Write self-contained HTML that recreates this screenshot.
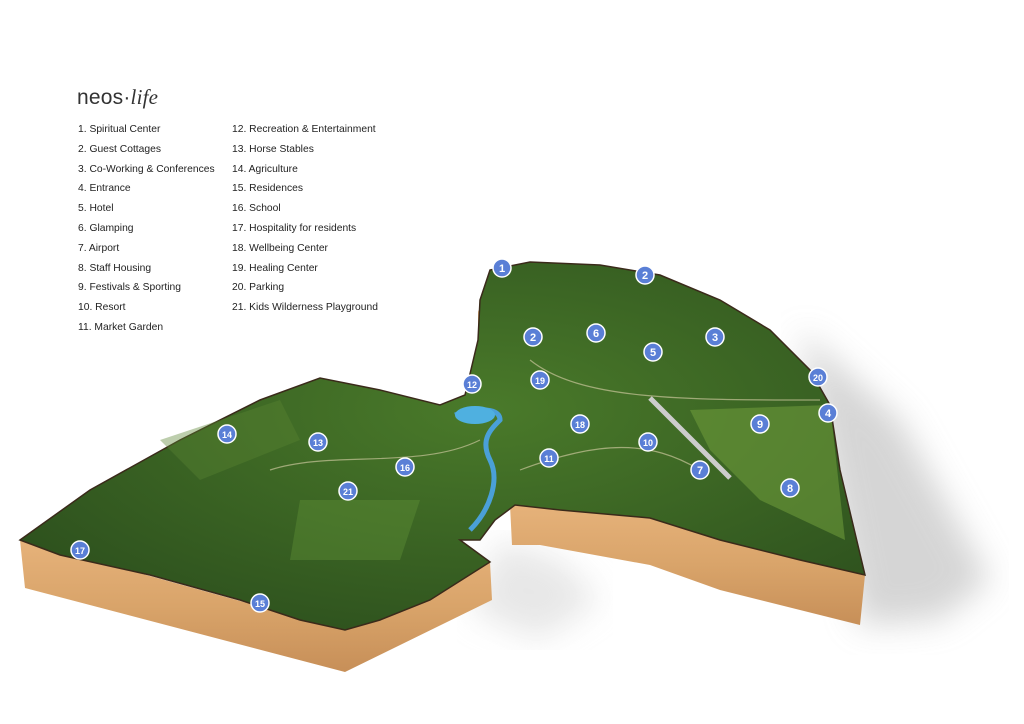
<!DOCTYPE html>
<html><head><meta charset="utf-8"><style>
body{margin:0;width:1024px;height:724px;background:#fff;overflow:hidden;position:relative;font-family:"Liberation Sans",sans-serif}
.logo{position:absolute;left:77px;top:85px;font-size:21px;color:#333;font-weight:normal;letter-spacing:0.2px}
.logo i{font-family:"Liberation Serif",serif}
.col{position:absolute;top:120px;font-size:10.3px;color:#222;line-height:19.8px}
</style></head><body>
<svg width="1024" height="724" style="position:absolute;left:0;top:0">
<defs>
<linearGradient id="side" x1="0" y1="0" x2="0" y2="1"><stop offset="0" stop-color="#e6b27a"/><stop offset="0.5" stop-color="#d9a46a"/><stop offset="1" stop-color="#c78f58"/></linearGradient>
<radialGradient id="grn" cx="0.55" cy="0.4" r="0.7"><stop offset="0" stop-color="#4a7a2a"/><stop offset="1" stop-color="#2c4f1d"/></radialGradient>
<filter id="bl"><feGaussianBlur stdDeviation="16"/></filter>
</defs>
<polygon points="800,330 900,420 990,580 940,620 860,625" fill="#c4c4c4" filter="url(#bl)" opacity="0.7"/>
<polygon points="500,540 560,560 600,600 540,640 470,610" fill="#d0d0d0" filter="url(#bl)" opacity="0.5"/>
<polygon points="20,540 345,630 490,562 492,600 345,672 25,588" fill="url(#side)"/>
<polygon points="510,505 650,518 720,540 800,560 865,575 860,625 720,590 650,565 540,545 512,545" fill="url(#side)"/>
<polygon points="478,310 500,360 500,400 478,400" fill="url(#side)"/>
<polygon points="20,540 90,490 180,440 260,400 320,378 380,390 440,405 465,395 478,340 480,300 490,270 530,262 600,265 660,275 720,300 770,330 810,370 830,405 840,470 865,575 800,560 720,540 650,518 560,510 515,505 495,520 480,540 460,540 490,562 430,600 380,620 345,630 300,620 240,600 150,575 60,555" fill="url(#grn)" stroke="#3a2a1a" stroke-width="1.5"/>
<polygon points="690,410 830,405 845,540 760,500 710,450" fill="#6d9a3a" opacity="0.6"/>
<polygon points="300,500 420,500 400,560 290,560" fill="#5e8f35" opacity="0.45"/>
<polygon points="160,440 280,400 300,440 200,480" fill="#5a8533" opacity="0.4"/>
<path d="M455,415 C470,410 500,405 500,420 C490,430 480,440 490,460 C500,480 490,510 470,530" stroke="#4aa0d8" stroke-width="5" fill="none"/>
<ellipse cx="475" cy="415" rx="20" ry="9" fill="#4fb0e0"/>
<line x1="650" y1="398" x2="730" y2="478" stroke="#ccc" stroke-width="5"/>
<path d="M270,470 C330,450 420,470 480,440 M520,470 C600,440 650,440 700,470 M530,360 C580,400 680,400 820,400" stroke="#c8c49a" stroke-width="1.2" fill="none" opacity="0.7"/>
<g font-family="Liberation Sans" font-size="11" font-weight="bold" fill="#fff" text-anchor="middle">
<g stroke="#fff" stroke-width="1.5" fill="#5a7fd6">
<circle cx="502" cy="268" r="9"/><circle cx="645" cy="275" r="9"/><circle cx="533" cy="337" r="9"/><circle cx="596" cy="333" r="9"/><circle cx="715" cy="337" r="9"/><circle cx="653" cy="352" r="9"/><circle cx="540" cy="380" r="9"/><circle cx="472" cy="384" r="9"/><circle cx="818" cy="377" r="9"/><circle cx="828" cy="413" r="9"/><circle cx="760" cy="424" r="9"/><circle cx="580" cy="424" r="9"/><circle cx="648" cy="442" r="9"/><circle cx="227" cy="434" r="9"/><circle cx="318" cy="442" r="9"/><circle cx="405" cy="467" r="9"/><circle cx="549" cy="458" r="9"/><circle cx="700" cy="470" r="9"/><circle cx="790" cy="488" r="9"/><circle cx="348" cy="491" r="9"/><circle cx="80" cy="550" r="9"/><circle cx="260" cy="603" r="9"/>
</g>
<text x="502" y="272">1</text><text x="645" y="279">2</text><text x="533" y="341">2</text><text x="596" y="337">6</text><text x="715" y="341">3</text><text x="653" y="356">5</text><text x="540" y="384" font-size="9">19</text><text x="472" y="388" font-size="9">12</text><text x="818" y="381" font-size="9">20</text><text x="828" y="417">4</text><text x="760" y="428">9</text><text x="580" y="428" font-size="9">18</text><text x="648" y="446" font-size="9">10</text><text x="227" y="438" font-size="9">14</text><text x="318" y="446" font-size="9">13</text><text x="405" y="471" font-size="9">16</text><text x="549" y="462" font-size="9">11</text><text x="700" y="474">7</text><text x="790" y="492">8</text><text x="348" y="495" font-size="9">21</text><text x="80" y="554" font-size="9">17</text><text x="260" y="607" font-size="9">15</text>
</g>
</svg>
<div class="logo">neos·<i>life</i></div>
<div class="col" style="left:78px">1. Spiritual Center<br>2. Guest Cottages<br>3. Co-Working &amp; Conferences<br>4. Entrance<br>5. Hotel<br>6. Glamping<br>7. Airport<br>8. Staff Housing<br>9. Festivals &amp; Sporting<br>10. Resort<br>11. Market Garden</div>
<div class="col" style="left:232px">12. Recreation &amp; Entertainment<br>13. Horse Stables<br>14. Agriculture<br>15. Residences<br>16. School<br>17. Hospitality for residents<br>18. Wellbeing Center<br>19. Healing Center<br>20. Parking<br>21. Kids Wilderness Playground</div>
</body></html>
